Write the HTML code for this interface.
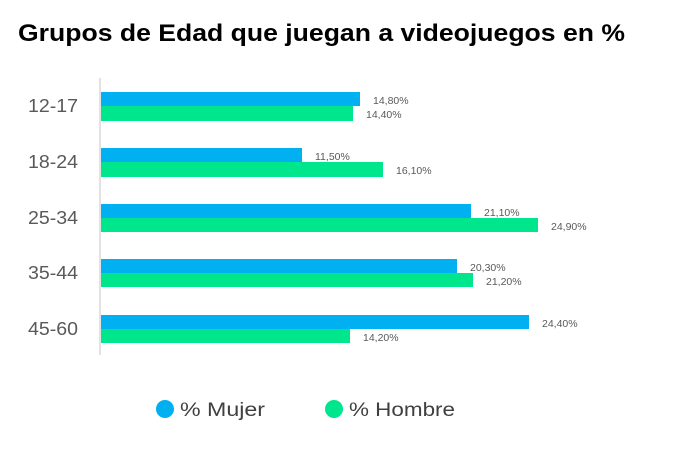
<!DOCTYPE html>
<html><head><style>
body{margin:0;width:673px;height:444px;background:#fff;overflow:hidden;font-family:"Liberation Sans",sans-serif}
</style></head><body>
<svg width="673" height="444" xmlns="http://www.w3.org/2000/svg" font-family="Liberation Sans, sans-serif">
<text x="18" y="41" font-size="24" font-weight="bold" fill="#000" textLength="607" lengthAdjust="spacingAndGlyphs">Grupos de Edad que juegan a videojuegos en %</text>
<line x1="100" y1="78" x2="100" y2="355" stroke="#d9d9d9" stroke-width="1.5"/>
<g font-size="18" fill="#595959" text-anchor="end">
<text x="78" y="112" textLength="50" lengthAdjust="spacingAndGlyphs">12-17</text>
<text x="78" y="168" textLength="50" lengthAdjust="spacingAndGlyphs">18-24</text>
<text x="78" y="224" textLength="50" lengthAdjust="spacingAndGlyphs">25-34</text>
<text x="78" y="279" textLength="50" lengthAdjust="spacingAndGlyphs">35-44</text>
<text x="78" y="335" textLength="50" lengthAdjust="spacingAndGlyphs">45-60</text>
</g>
<g>
<rect x="101" y="92" width="259" height="14" fill="#00B0F0"/>
<rect x="101" y="106" width="252" height="15" fill="#00E68C"/>
<rect x="101" y="148" width="201" height="14" fill="#00B0F0"/>
<rect x="101" y="162" width="282" height="15" fill="#00E68C"/>
<rect x="101" y="204" width="370" height="14" fill="#00B0F0"/>
<rect x="101" y="218" width="437" height="14" fill="#00E68C"/>
<rect x="101" y="259" width="356" height="14" fill="#00B0F0"/>
<rect x="101" y="273" width="372" height="14" fill="#00E68C"/>
<rect x="101" y="315" width="428" height="14" fill="#00B0F0"/>
<rect x="101" y="329" width="249" height="14" fill="#00E68C"/>
</g>
<g font-size="10.5" fill="#595959">
<text x="373" y="104">14,80%</text>
<text x="366" y="118">14,40%</text>
<text x="315" y="160">11,50%</text>
<text x="396" y="174">16,10%</text>
<text x="484" y="216">21,10%</text>
<text x="551" y="230">24,90%</text>
<text x="470" y="271">20,30%</text>
<text x="486" y="285">21,20%</text>
<text x="542" y="327">24,40%</text>
<text x="363" y="341">14,20%</text>
</g>
<circle cx="165" cy="409" r="9" fill="#00B0F0"/>
<text x="180" y="416" font-size="19" fill="#404040" textLength="85" lengthAdjust="spacingAndGlyphs">% Mujer</text>
<circle cx="334" cy="409" r="9" fill="#00E68C"/>
<text x="349" y="416" font-size="19" fill="#404040" textLength="106" lengthAdjust="spacingAndGlyphs">% Hombre</text>
</svg>
</body></html>
